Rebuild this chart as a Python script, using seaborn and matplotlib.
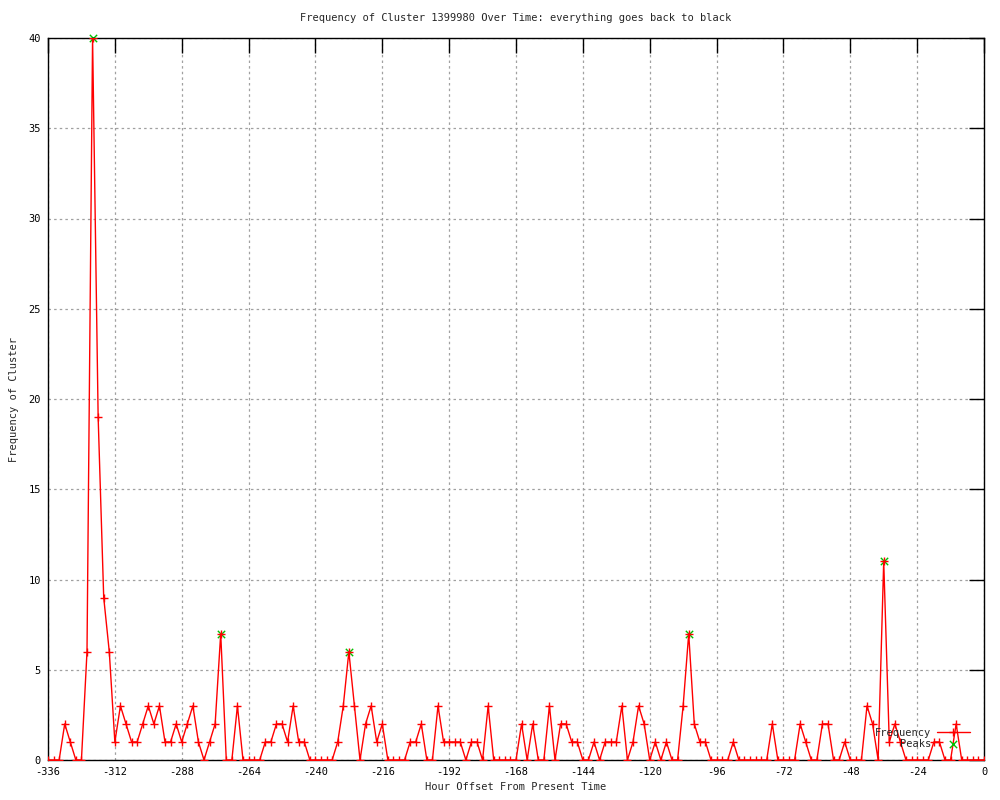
import numpy as np
import matplotlib
matplotlib.use("Agg")
import matplotlib.pyplot as plt
import seaborn as sns

# hourly offsets, one sample every 2 hours from -336 to 0
hours = list(range(-336, 1, 2))
freq = [
    0, 0, 0, 2, 1, 0, 0, 6, 40, 19, 9,
    6, 1, 3, 2, 1, 1, 2, 3, 2, 3,
    1, 1, 2, 1, 2, 3, 1, 0, 1, 2,
    7, 0, 0, 3, 0, 0, 0, 0, 1, 1,
    2, 2, 1, 3, 1, 1, 0, 0, 0, 0,
    0, 1, 3, 6, 3, 0, 2, 3, 1, 2,
    0, 0, 0, 0, 1, 1, 2, 0, 0, 3,
    1, 1, 1, 1, 0, 1, 1, 0, 3, 0,
    0, 0, 0, 0, 2, 0, 2, 0, 0, 3,
    0, 2, 2, 1, 1, 0, 0, 1, 0, 1,
    1, 1, 3, 0, 1, 3, 2, 0, 1, 0,
    1, 0, 0, 3, 7, 2, 1, 1, 0, 0,
    0, 0, 1, 0, 0, 0, 0, 0, 0, 2,
    0, 0, 0, 0, 2, 1, 0, 0, 2, 2,
    0, 0, 1, 0, 0, 0, 3, 2, 0, 11,
    1, 2, 1, 0, 0, 0, 0, 0, 1, 1,
    0, 0, 2, 0, 0, 0, 0, 0,
]
peak_hours = [-320, -274, -228, -106, -36]
peak_vals = [40, 7, 6, 7, 11]

x_ticks = list(range(-336, 1, 24))
y_ticks = list(range(0, 41, 5))

sns.set_style("white")
plt.rcParams["font.family"] = ["DejaVu Sans Mono"]
plt.rcParams["axes.unicode_minus"] = False

fig = plt.figure(figsize=(10, 8), dpi=100)
ax = fig.add_axes([0.048, 0.05, 0.936, 0.9025])

ax.grid(True, color="#a0a0a0", linestyle=(0, (2, 2.5)), linewidth=0.9)
ax.set_axisbelow(True)

sns.lineplot(x=hours, y=freq, ax=ax, color="red", linewidth=1,
             marker="+", markersize=6, markeredgecolor="red",
             markeredgewidth=1, label="Frequency", zorder=3)
# peaks drawn unclipped so the one at the top edge shows whole
sns.scatterplot(x=peak_hours, y=peak_vals, ax=ax, marker="x",
                color="#00c000", s=28, linewidth=1, label="Peaks", zorder=2,
                clip_on=False)

ax.set_xlim(-336, 0)
ax.set_ylim(0, 40)
ax.set_xticks(x_ticks)
ax.set_yticks(y_ticks)
ax.tick_params(direction="in", length=11, width=1, top=True, right=True,
               labelsize=7.5, colors="black", pad=5)
for s in ax.spines.values():
    s.set_color("black")
    s.set_linewidth(1)

ax.set_title("Frequency of Cluster 1399980 Over Time: everything goes back to black",
             fontsize=7.5, pad=12)
ax.set_xlabel("Hour Offset From Present Time", fontsize=7.5, labelpad=4)
ax.set_ylabel("Frequency of Cluster", fontsize=7.5, labelpad=7)

ax.legend(loc="lower right", bbox_to_anchor=(0.993, 0.005), frameon=False,
          markerfirst=False, fontsize=7.5, handlelength=3.2,
          labelspacing=0.15, handletextpad=0.5, borderpad=0.2)

fig.savefig("out.png", dpi=100)
